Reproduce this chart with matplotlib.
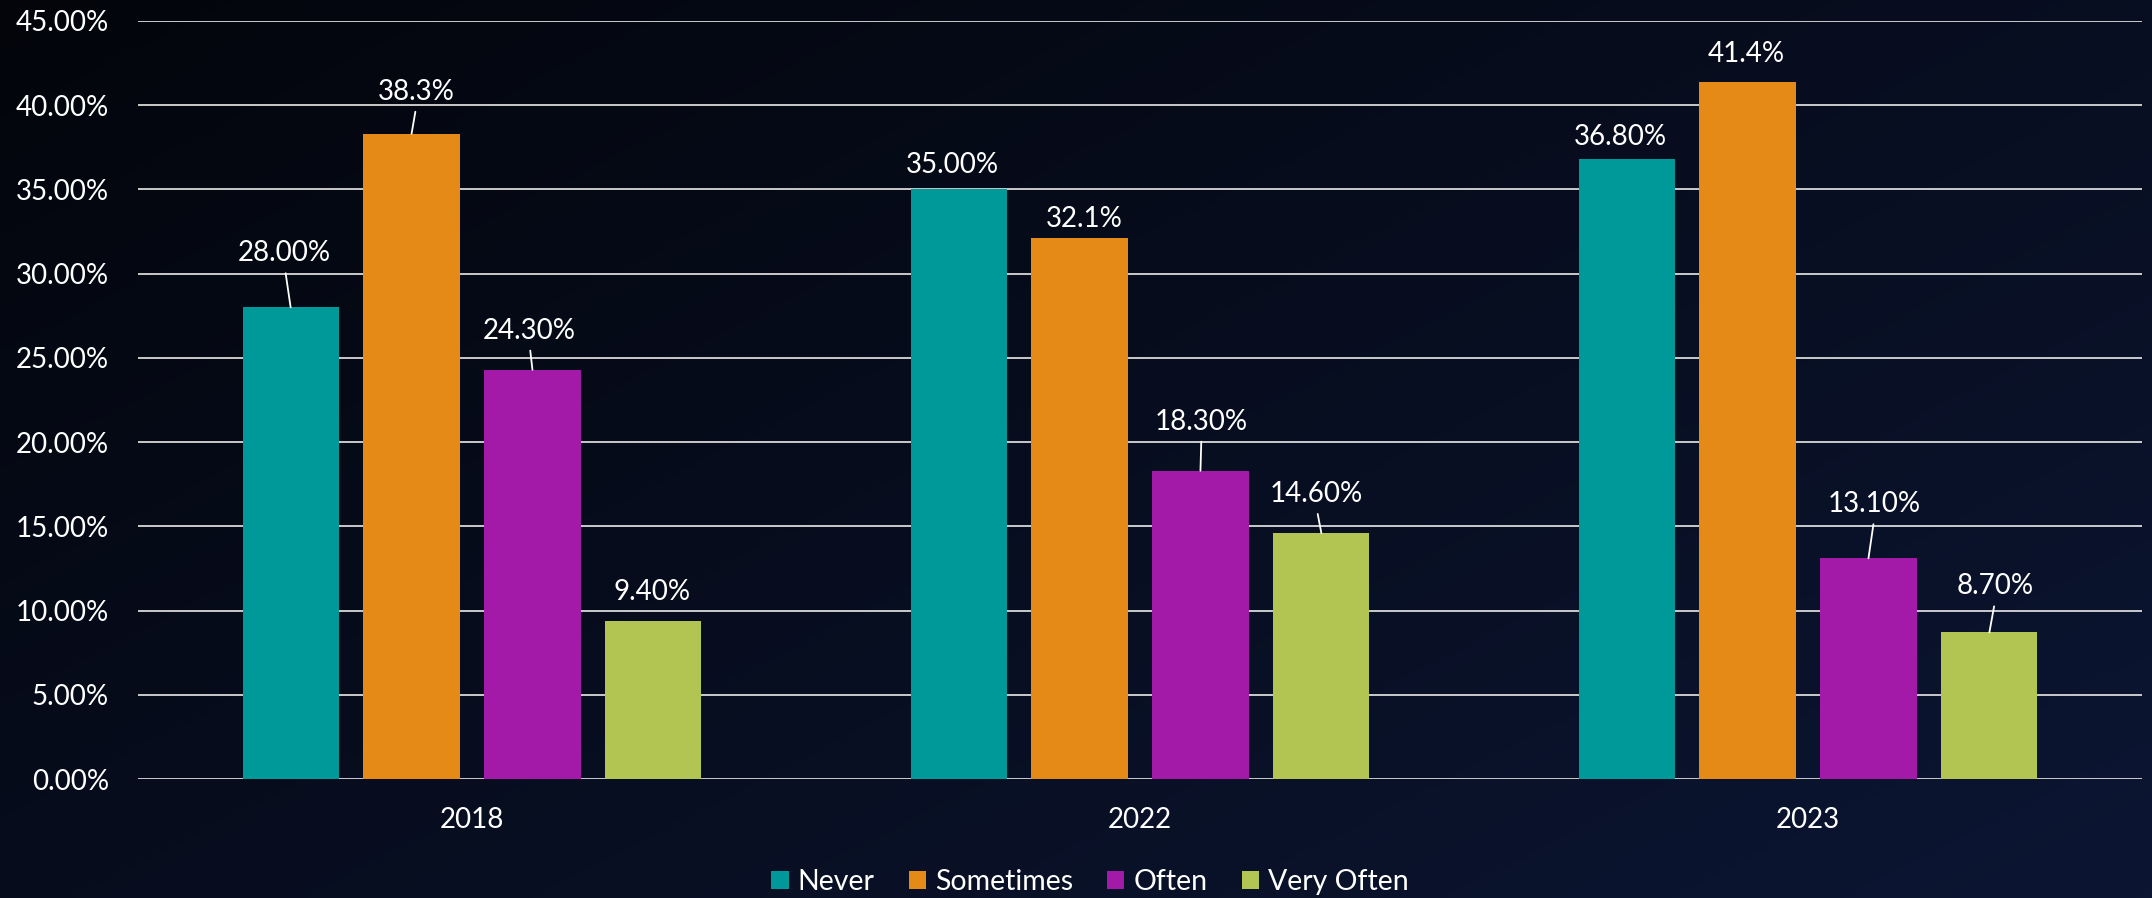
import numpy as np
import matplotlib
matplotlib.use("Agg")
import matplotlib.pyplot as plt
from matplotlib.colors import LinearSegmentedColormap
from matplotlib.patches import Patch

# ---- data ----
years = ["2018", "2022", "2023"]
series = ["Never", "Sometimes", "Often", "Very Often"]
never = [0.280, 0.350, 0.368]
sometimes = [0.383, 0.321, 0.414]
often = [0.243, 0.183, 0.131]
very_often = [0.094, 0.146, 0.087]
decimals = [2, 1, 2, 2]
yticks = [0.00, 0.05, 0.10, 0.15, 0.20, 0.25, 0.30, 0.35, 0.40, 0.45]

# ---- style ----
colors = ["#009999", "#E68A17", "#A31AA8", "#B2C452"]
# label offsets (pixels) from bar top-centre to label centre
label_offsets = [
    [(-6, 56), (-6, 26), (-6, 24)],
    [(5, 44), (5, 21), (-1, 30)],
    [(-3, 41), (1, 51), (6, 56)],
    [(-1, 31), (-5, 41), (6, 48)],
]

plt.rcParams["font.family"] = ["Lato", "DejaVu Sans"]

W, H = 2152, 898
fig = plt.figure(figsize=(W / 100, H / 100), dpi=100)

# background gradient
bg = fig.add_axes([0, 0, 1, 1], zorder=-10)
gx, gy = np.meshgrid(np.linspace(0, 1, 400), np.linspace(0, 1, 200))
t = 0.55 * gx + 0.45 * gy
cmap = LinearSegmentedColormap.from_list("bg", ["#03050b", "#0c1633"])
bg.imshow(t, cmap=cmap, aspect="auto", extent=[0, 1, 1, 0], vmin=0, vmax=1)
bg.set_axis_off()

ax = fig.add_axes([138 / W, 1 - 779 / H, (2142 - 138) / W, (779 - 21) / H])
ax.set_facecolor("none")

x = np.arange(len(years))
width = 0.144
step = 0.181
data = [never, sometimes, often, very_often]
for i, (name, vals) in enumerate(zip(series, data)):
    pos = x + (i - 1.5) * step
    ax.bar(pos, vals, width=width, color=colors[i], label=name, zorder=3)
    for j, v in enumerate(vals):
        dx, dy = label_offsets[i][j]
        txt = f"{v * 100:.{decimals[i]}f}%"
        if dy >= 38:
            ax.annotate(txt, xy=(pos[j], v), xytext=(dx, dy - 10),
                        textcoords="offset pixels", ha="center", va="baseline",
                        color="white", fontsize=20, zorder=5,
                        arrowprops=dict(arrowstyle="-", color="white", lw=1.3,
                                        shrinkA=3, shrinkB=0,
                                        relpos=(0.5, 0.0)))
        else:
            ax.annotate(txt, xy=(pos[j], v), xytext=(dx, dy - 10),
                        textcoords="offset pixels", ha="center", va="baseline",
                        color="white", fontsize=20, zorder=5)

ax.set_xlim(-0.5, 2.5)
ax.set_ylim(0, 0.45)
ax.set_yticks(yticks)
ax.set_yticklabels([f"{v * 100:.2f}%" for v in yticks])
ax.set_xticks(x)
ax.set_xticklabels(years)
ax.tick_params(axis="both", length=0, colors="white", labelsize=20)
ax.tick_params(axis="y", pad=21)
ax.tick_params(axis="x", pad=20)
ax.grid(axis="y", color="#d9d9d9", linewidth=1.3, zorder=1)
for s in ax.spines.values():
    s.set_visible(False)

handles = [Patch(facecolor=c, edgecolor="none") for c in colors]
fig.legend(handles, series, loc="center", bbox_to_anchor=(1090 / W, 1 - 882 / H),
           ncol=4, frameon=False, fontsize=20.5, labelcolor="white",
           handlelength=0.6, handleheight=0.63, handletextpad=0.32,
           columnspacing=1.2)

fig.savefig("out.png", dpi=100)
